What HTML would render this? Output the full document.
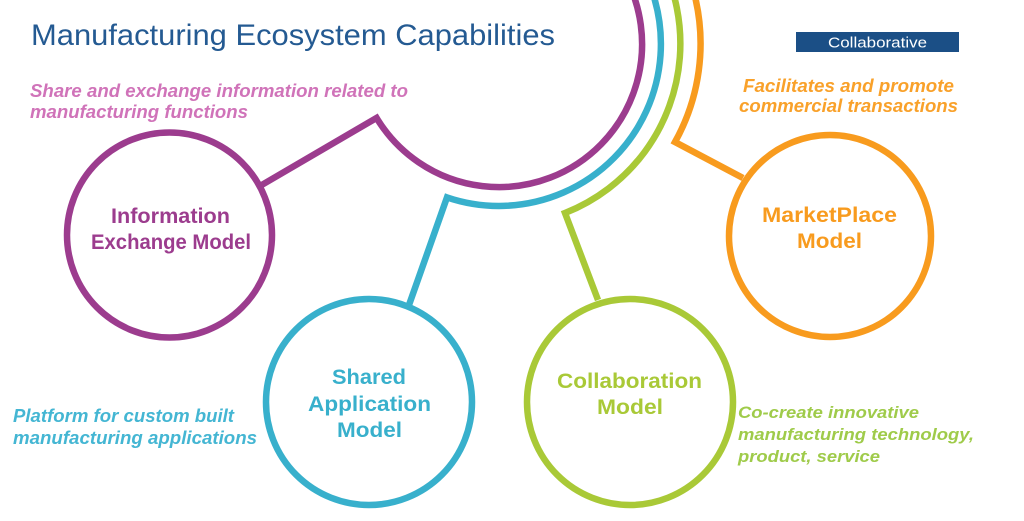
<!DOCTYPE html>
<html>
<head>
<meta charset="utf-8">
<style>
  html, body { margin: 0; padding: 0; background: #ffffff; }
  body { width: 1024px; height: 521px; overflow: hidden; }
  svg { display: block; }
  text { font-family: "Liberation Sans", "DejaVu Sans", sans-serif; }
</style>
</head>
<body>
<svg width="1024" height="521" viewBox="0 0 1024 521" xmlns="http://www.w3.org/2000/svg">
  <rect x="0" y="0" width="1024" height="521" fill="#ffffff"/>

  <!-- Arcs with connectors -->
  <g fill="none" stroke-width="6.5" stroke-linejoin="miter" stroke-miterlimit="10">
    <path d="M 260 186 L 376.6 117.9 A 143 143 0 1 0 570.5 -79.8" stroke="#9c3c8e"/>
    <path d="M 409 305 L 447 197.4 A 162 162 0 0 0 580 -96.3" stroke="#38b0cc"/>
    <path d="M 598 300 L 565 213 A 182 182 0 0 0 590 -113.6" stroke="#a9c937"/>
    <path d="M 743 178 L 675 142 A 202 202 0 0 0 600 -131" stroke="#f89b1e"/>
  </g>

  <!-- Circles -->
  <g fill="none" stroke-width="6.5">
    <circle cx="169.5" cy="235" r="102.5" stroke="#9c3c8e"/>
    <circle cx="369" cy="402" r="103" stroke="#38b0cc"/>
    <circle cx="630" cy="402" r="103" stroke="#a9c937"/>
    <circle cx="830" cy="236" r="101" stroke="#f89b1e"/>
  </g>

  <!-- Title -->
  <text x="31" y="45" font-size="30" fill="#245a92" textLength="524" lengthAdjust="spacingAndGlyphs">Manufacturing Ecosystem Capabilities</text>

  <!-- Collaborative box -->
  <rect x="796" y="32" width="163" height="20" fill="#1b4f86"/>
  <text x="877.5" y="47.5" font-size="15" fill="#ffffff" text-anchor="middle" textLength="99" lengthAdjust="spacingAndGlyphs">Collaborative</text>

  <!-- Purple description -->
  <g font-size="18" font-weight="bold" font-style="italic" fill="#d073b9">
    <text x="30" y="97" textLength="378" lengthAdjust="spacingAndGlyphs">Share and exchange information related to</text>
    <text x="30" y="118" textLength="218" lengthAdjust="spacingAndGlyphs">manufacturing functions</text>
  </g>

  <!-- Orange description -->
  <g font-size="18" font-weight="bold" font-style="italic" fill="#f9a12a">
    <text x="743" y="92" textLength="211" lengthAdjust="spacingAndGlyphs">Facilitates and promote</text>
    <text x="739" y="112" textLength="219" lengthAdjust="spacingAndGlyphs">commercial transactions</text>
  </g>

  <!-- Blue description -->
  <g font-size="18" font-weight="bold" font-style="italic" fill="#44b6d3">
    <text x="13" y="422" textLength="221" lengthAdjust="spacingAndGlyphs">Platform for custom built</text>
    <text x="13" y="444" textLength="244" lengthAdjust="spacingAndGlyphs">manufacturing applications</text>
  </g>

  <!-- Green description -->
  <g font-size="16.5" font-weight="bold" font-style="italic" fill="#9fcb4a">
    <text x="738" y="418" textLength="181" lengthAdjust="spacingAndGlyphs">Co-create innovative</text>
    <text x="738" y="440" textLength="236" lengthAdjust="spacingAndGlyphs">manufacturing technology,</text>
    <text x="738" y="462" textLength="142" lengthAdjust="spacingAndGlyphs">product, service</text>
  </g>

  <!-- Circle labels -->
  <g font-size="21" font-weight="bold" text-anchor="middle">
    <text x="170.5" y="223" fill="#9c3c8e" textLength="119" lengthAdjust="spacingAndGlyphs">Information</text>
    <text x="171" y="249" fill="#9c3c8e" textLength="160" lengthAdjust="spacingAndGlyphs">Exchange Model</text>

    <text x="369" y="384" fill="#38b0cc" textLength="74" lengthAdjust="spacingAndGlyphs">Shared</text>
    <text x="369.5" y="411" fill="#38b0cc" textLength="123" lengthAdjust="spacingAndGlyphs">Application</text>
    <text x="369.5" y="437" fill="#38b0cc" textLength="65" lengthAdjust="spacingAndGlyphs">Model</text>

    <text x="629.5" y="388" fill="#a9c937" textLength="145" lengthAdjust="spacingAndGlyphs">Collaboration</text>
    <text x="630" y="414" fill="#a9c937" textLength="66" lengthAdjust="spacingAndGlyphs">Model</text>

    <text x="829.5" y="222" fill="#f89b1e" textLength="135" lengthAdjust="spacingAndGlyphs">MarketPlace</text>
    <text x="829.5" y="248" fill="#f89b1e" textLength="65" lengthAdjust="spacingAndGlyphs">Model</text>
  </g>
</svg>
</body>
</html>
